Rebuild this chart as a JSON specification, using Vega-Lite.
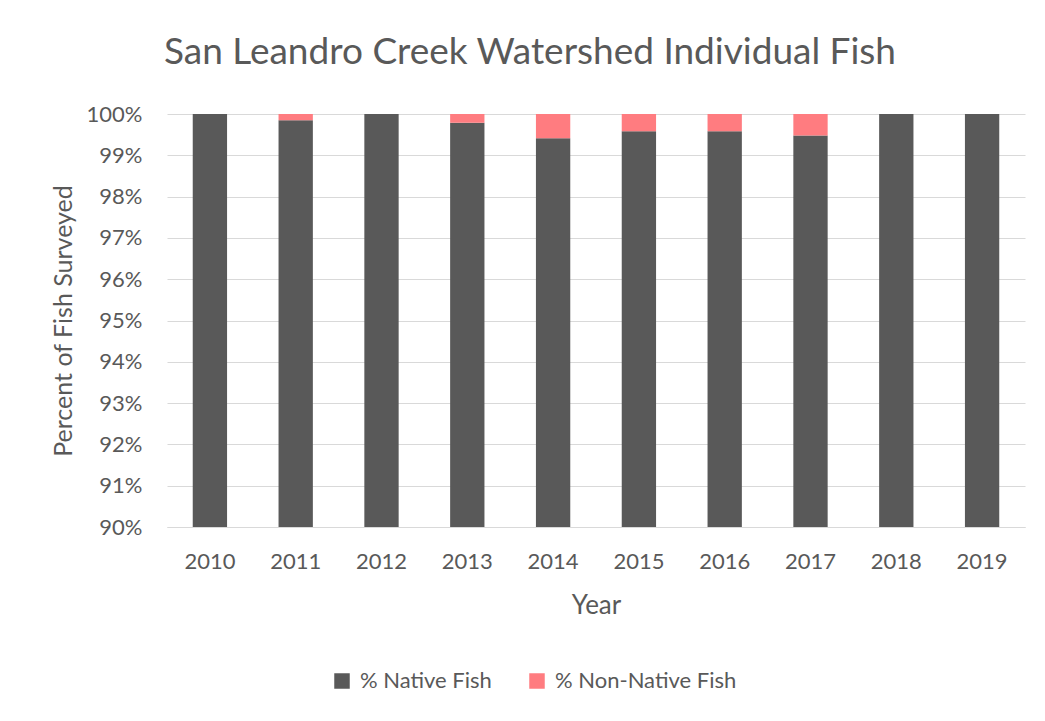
{
  "$schema": "https://vega.github.io/schema/vega-lite/v6.json",
  "autosize": {"type": "none"},
  "width": 858,
  "height": 413,
  "padding": {"left": 167, "top": 114, "right": 20, "bottom": 194},
  "background": "white",
  "title": {
    "text": "San Leandro Creek Watershed Individual Fish",
    "font": "Lato",
    "fontSize": 37,
    "fontWeight": "normal",
    "color": "#595959",
    "anchor": "middle",
    "frame": "group",
    "dx": -66,
    "offset": 31
  },
  "data": {
    "values": [
      {"year": "2010", "series": "% Native Fish", "value": 1.0},
      {"year": "2010", "series": "% Non-Native Fish", "value": 0.0},
      {"year": "2011", "series": "% Native Fish", "value": 0.9985},
      {"year": "2011", "series": "% Non-Native Fish", "value": 0.0015},
      {"year": "2012", "series": "% Native Fish", "value": 1.0},
      {"year": "2012", "series": "% Non-Native Fish", "value": 0.0},
      {"year": "2013", "series": "% Native Fish", "value": 0.9979},
      {"year": "2013", "series": "% Non-Native Fish", "value": 0.0021},
      {"year": "2014", "series": "% Native Fish", "value": 0.9941},
      {"year": "2014", "series": "% Non-Native Fish", "value": 0.0059},
      {"year": "2015", "series": "% Native Fish", "value": 0.9958},
      {"year": "2015", "series": "% Non-Native Fish", "value": 0.0042},
      {"year": "2016", "series": "% Native Fish", "value": 0.9958},
      {"year": "2016", "series": "% Non-Native Fish", "value": 0.0042},
      {"year": "2017", "series": "% Native Fish", "value": 0.9948},
      {"year": "2017", "series": "% Non-Native Fish", "value": 0.0052},
      {"year": "2018", "series": "% Native Fish", "value": 1.0},
      {"year": "2018", "series": "% Non-Native Fish", "value": 0.0},
      {"year": "2019", "series": "% Native Fish", "value": 1.0},
      {"year": "2019", "series": "% Non-Native Fish", "value": 0.0}
    ]
  },
  "mark": {"type": "bar", "clip": true},
  "encoding": {
    "x": {
      "field": "year",
      "type": "ordinal",
      "scale": {"paddingInner": 0.6, "paddingOuter": 0.3},
      "axis": {
        "title": "Year",
        "labelAngle": 0,
        "labelFont": "Lato",
        "labelFontSize": 22,
        "labelColor": "#595959",
        "labelPadding": 24,
        "titleFont": "Lato",
        "titleFontSize": 26,
        "titleFontWeight": "normal",
        "titleColor": "#595959",
        "titlePadding": 20,
        "ticks": false,
        "domainColor": "#D9D9D9",
        "domainWidth": 1
      }
    },
    "y": {
      "field": "value",
      "type": "quantitative",
      "stack": "zero",
      "scale": {"domain": [0.9, 1.0], "nice": false, "zero": false},
      "axis": {
        "title": "Percent of Fish Surveyed",
        "values": [0.9, 0.91, 0.92, 0.93, 0.94, 0.95, 0.96, 0.97, 0.98, 0.99, 1.0],
        "format": ".0%",
        "labelFont": "Lato",
        "labelFontSize": 22,
        "labelColor": "#595959",
        "labelPadding": 25,
        "titleFont": "Lato",
        "titleFontSize": 25,
        "titleFontWeight": "normal",
        "titleColor": "#595959",
        "titlePadding": 10,
        "ticks": false,
        "domain": false,
        "gridColor": "#D9D9D9",
        "gridWidth": 1
      }
    },
    "color": {
      "field": "series",
      "type": "nominal",
      "scale": {"domain": ["% Native Fish", "% Non-Native Fish"], "range": ["#595959", "#FF7C80"]},
      "legend": {
        "title": null,
        "orient": "none",
        "direction": "horizontal",
        "legendX": 164,
        "legendY": 556,
        "symbolType": "square",
        "symbolSize": 240,
        "symbolStrokeWidth": 0,
        "labelFont": "Lato",
        "labelFontSize": 22,
        "labelColor": "#595959",
        "labelLimit": 400,
        "columnPadding": 34,
        "labelOffset": 7
      }
    },
    "order": {"field": "series", "sort": "ascending"}
  },
  "config": {"view": {"stroke": null}}
}
